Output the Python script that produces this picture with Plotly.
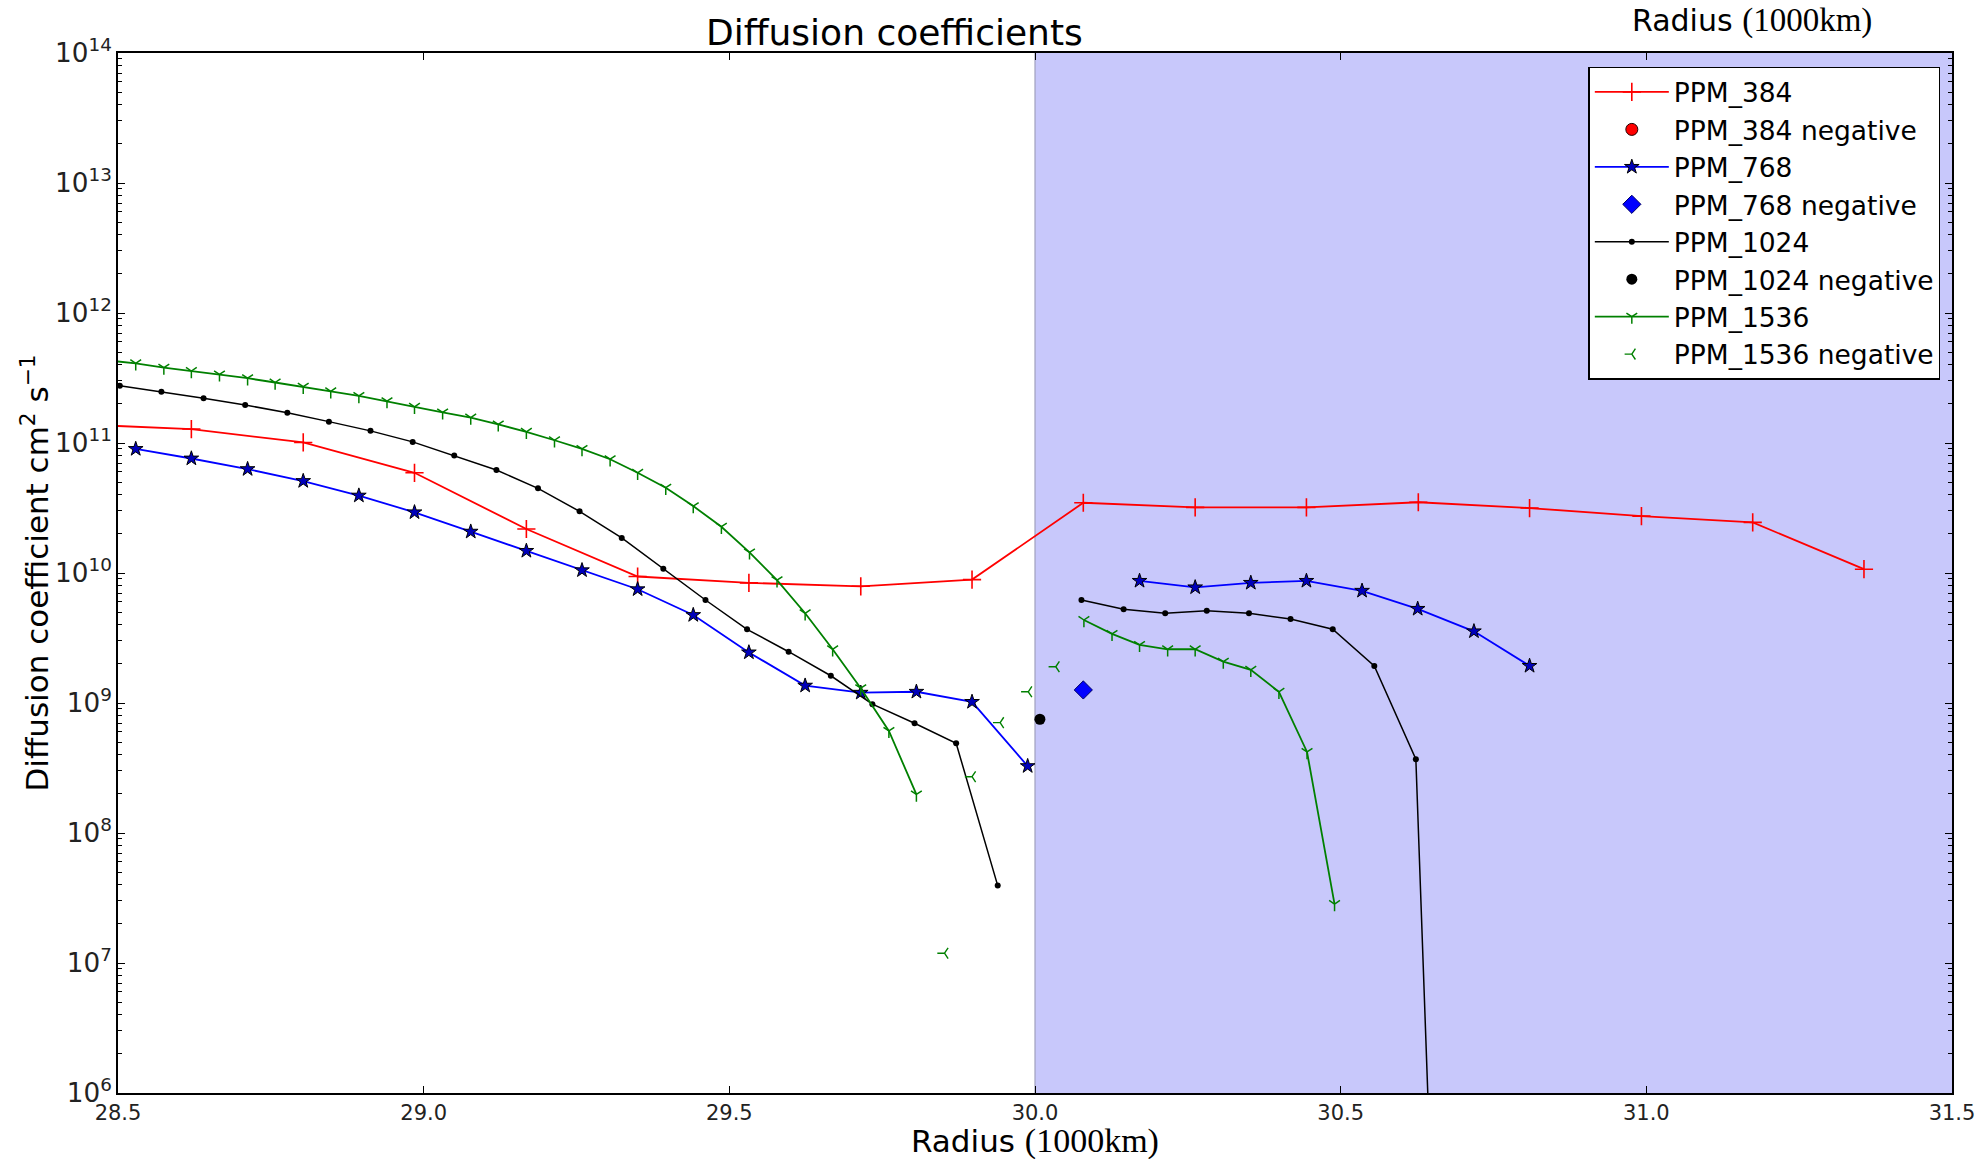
import plotly.graph_objects as go

# ---------------- data ----------------
ppm384_x = [28.438, 28.620, 28.803, 28.985, 29.168, 29.350, 29.532, 29.715, 29.897,
            30.079, 30.262, 30.444, 30.627, 30.809, 30.992, 31.174, 31.356]
ppm384_y = [1.39e11, 1.28e11, 1.01e11, 5.9e10, 2.18e10, 9.4e9, 8.4e9, 7.9e9, 8.9e9,
            3.47e10, 3.2e10, 3.2e10, 3.5e10, 3.16e10, 2.74e10, 2.45e10, 1.07e10]
# no negative values visible for PPM_384 (legend entry only)
ppm384_neg_x = [None]
ppm384_neg_y = [None]

ppm768_x = [28.529, 28.620, 28.712, 28.803, 28.894, 28.985, 29.077, 29.168, 29.259,
            29.350, 29.441, 29.532, 29.624, 29.715, 29.806, 29.897, 29.988, 30.079,
            30.171, 30.262, 30.353, 30.444, 30.535, 30.626, 30.718, 30.809]
ppm768_y = [9.0e10, 7.6e10, 6.3e10, 5.1e10, 3.94e10, 2.93e10, 2.08e10, 1.48e10, 1.05e10,
            7.5e9, 4.75e9, 2.45e9, 1.36e9, 1.2e9, 1.22e9, 1.02e9, 3.27e8, None,
            8.7e9, 7.76e9, 8.4e9, 8.7e9, 7.3e9, 5.3e9, 3.56e9, 1.93e9]
ppm768_neg_x = [30.079]
ppm768_neg_y = [1.26e9]

ppm1024_x = [28.503, 28.571, 28.640, 28.708, 28.777, 28.845, 28.913, 28.982, 29.050,
             29.119, 29.187, 29.255, 29.324, 29.392, 29.461, 29.529, 29.597, 29.666,
             29.734, 29.803, 29.871, 29.939, 30.008, 30.076, 30.145, 30.213, 30.281,
             30.350, 30.418, 30.487, 30.555, 30.623, 30.692]
ppm1024_y = [2.76e11, 2.48e11, 2.21e11, 1.96e11, 1.71e11, 1.46e11, 1.24e11, 1.02e11, 8.0e10,
             6.2e10, 4.48e10, 2.98e10, 1.86e10, 1.08e10, 6.2e9, 3.69e9, 2.48e9, 1.62e9,
             9.8e8, 6.98e8, 4.9e8, 3.94e7, None, 6.2e9, 5.26e9, 4.9e9, 5.13e9,
             4.9e9, 4.43e9, 3.69e9, 1.93e9, 3.69e8, 0.3]
ppm1024_neg_x = [30.008]
ppm1024_neg_y = [7.5e8]

ppm1536_x = [28.483, 28.529, 28.575, 28.620, 28.666, 28.712, 28.757, 28.803, 28.848,
             28.894, 28.940, 28.985, 29.031, 29.077, 29.122, 29.168, 29.214, 29.259,
             29.305, 29.350, 29.396, 29.441, 29.487, 29.533, 29.578, 29.624, 29.669,
             29.715, 29.761, 29.806, 29.852, 29.897, 29.943, 29.989, 30.034, 30.080,
             30.126, 30.171, 30.217, 30.262, 30.308, 30.353, 30.399, 30.445, 30.490]
ppm1536_y = [4.32e11, 4.1e11, 3.8e11, 3.58e11, 3.37e11, 3.15e11, 2.92e11, 2.71e11, 2.5e11,
             2.3e11, 2.1e11, 1.9e11, 1.72e11, 1.57e11, 1.39e11, 1.22e11, 1.05e11, 9.0e10,
             7.5e10, 5.9e10, 4.53e10, 3.27e10, 2.27e10, 1.44e10, 8.8e9, 4.9e9, 2.59e9,
             1.3e9, 6.1e8, 1.98e8, None, None, None, None, None, 4.35e9,
             3.4e9, 2.8e9, 2.59e9, 2.59e9, 2.08e9, 1.8e9, 1.22e9, 4.2e8, 2.84e7]
ppm1536_neg_x = [29.852, 29.897, 29.943, 29.989, 30.034]
ppm1536_neg_y = [1.19e7, 2.71e8, 7.06e8, 1.22e9, 1.9e9]

x_ticks = [28.5, 29.0, 29.5, 30.0, 30.5, 31.0, 31.5]
x_range = [28.5, 31.5]
y_range_log = [6, 14]
shade_x = [30.0, 31.5]

# ---------------- figure ----------------
GREEN = "rgb(0,128,0)"
FONT = "DejaVu Sans"

fig = go.Figure()

fig.add_trace(go.Scatter(
    x=ppm384_x, y=ppm384_y, name="PPM_384", mode="lines+markers",
    line=dict(color="red", width=1.8),
    marker=dict(symbol="cross-thin", size=13, color="red", line=dict(color="red", width=1.6))))
fig.add_trace(go.Scatter(
    x=ppm384_neg_x, y=ppm384_neg_y, name="PPM_384 negative", mode="markers",
    marker=dict(symbol="circle", size=12, color="red", line=dict(color="#220000", width=1))))

fig.add_trace(go.Scatter(
    x=ppm768_x, y=ppm768_y, name="PPM_768", mode="lines+markers", connectgaps=False,
    line=dict(color="blue", width=1.8),
    marker=dict(symbol="star", size=11, color="#0000bb", line=dict(color="black", width=1))))
fig.add_trace(go.Scatter(
    x=ppm768_neg_x, y=ppm768_neg_y, name="PPM_768 negative", mode="markers",
    marker=dict(symbol="diamond", size=14, color="blue", line=dict(color="#000066", width=1))))

fig.add_trace(go.Scatter(
    x=ppm1024_x, y=ppm1024_y, name="PPM_1024", mode="lines+markers", connectgaps=False,
    line=dict(color="black", width=1.5),
    marker=dict(symbol="circle", size=6, color="black")))
fig.add_trace(go.Scatter(
    x=ppm1024_neg_x, y=ppm1024_neg_y, name="PPM_1024 negative", mode="markers",
    marker=dict(symbol="circle", size=11, color="black")))

fig.add_trace(go.Scatter(
    x=ppm1536_x, y=ppm1536_y, name="PPM_1536", mode="lines+markers", connectgaps=False,
    line=dict(color=GREEN, width=1.8),
    marker=dict(symbol="y-down", size=9, color=GREEN, line=dict(color=GREEN, width=1.5))))
fig.add_trace(go.Scatter(
    x=ppm1536_neg_x, y=ppm1536_neg_y, name="PPM_1536 negative", mode="markers",
    marker=dict(symbol="y-left", size=9, color=GREEN, line=dict(color=GREEN, width=1.4))))

# shaded region
fig.add_shape(type="rect", xref="x", yref="paper", x0=shade_x[0], x1=shade_x[1], y0=0, y1=1,
              fillcolor="rgb(200,200,251)", line=dict(width=0), layer="below")
fig.add_shape(type="line", xref="x", yref="paper", x0=shade_x[0], x1=shade_x[0], y0=0, y1=1,
              line=dict(color="rgb(160,160,190)", width=1.2), layer="below")

axis_common = dict(
    showline=True, linecolor="black", linewidth=1.8, mirror="allticks",
    ticks="inside", ticklen=7, tickwidth=1.3, tickcolor="black",
    showgrid=False, zeroline=False, automargin=False,
    tickfont=dict(family=FONT, size=21, color="#222"),
)

fig.update_xaxes(range=x_range, tickvals=x_ticks, tickformat=".1f", **axis_common)
fig.update_yaxes(type="log", range=y_range_log, dtick=1, exponentformat="power",
                 minor=dict(ticks="inside", ticklen=4, tickwidth=1, tickcolor="black", dtick="D1"),
                 **axis_common)


def radius_label(serif_size):
    return ('Radius <span style="font-family:Liberation Serif;font-size:%dpx">(1000km)</span>'
            % serif_size)


annotations = [
    dict(text="Diffusion coefficients", xref="paper", yref="paper", x=0.4235, y=1.0195,
         xanchor="center", yanchor="middle", showarrow=False,
         font=dict(family=FONT, size=36, color="black")),
    dict(text=radius_label(34), xref="paper", yref="paper", x=0.5, y=-0.046,
         xanchor="center", yanchor="middle", showarrow=False,
         font=dict(family=FONT, size=31, color="black")),
    dict(text=radius_label(33), xref="paper", yref="paper", x=0.891, y=1.0505,
         xanchor="center", yanchor="top", showarrow=False,
         font=dict(family=FONT, size=30, color="black")),
    dict(text="Diffusion coefficient cm<sup>2</sup> s<sup>\u22121</sup>", xref="paper", yref="paper",
         x=-0.0455, y=0.5, xanchor="center", yanchor="middle", textangle=-90, showarrow=False,
         font=dict(family=FONT, size=31, color="black")),
]

fig.update_layout(
    width=1980, height=1159,
    margin=dict(l=118, r=28, t=53, b=66),
    paper_bgcolor="white", plot_bgcolor="white",
    annotations=annotations,
    showlegend=True,
    legend=dict(x=0.8017, y=0.9868, xanchor="left", yanchor="top",
                bgcolor="white", bordercolor="black", borderwidth=1.5,
                font=dict(family=FONT, size=26.5, color="black"),
                itemwidth=74, tracegroupgap=0),
)

fig.write_html("out.html")
